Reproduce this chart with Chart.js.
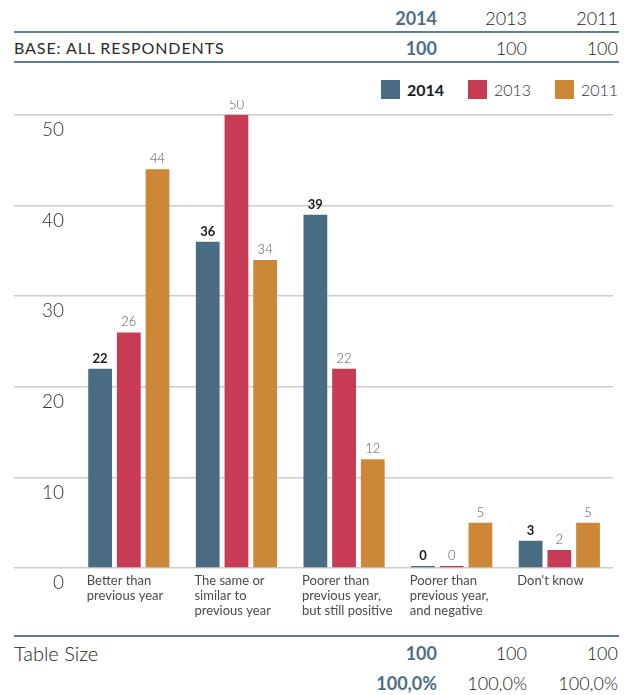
<!DOCTYPE html>
<html>
<head>
<meta charset="utf-8">
<script src="https://cdn.jsdelivr.net/npm/chart.js@4.4.1/dist/chart.umd.min.js"></script>
<style>
  body { margin: 0; width: 632px; height: 695px; position: relative; background: #fff;
         font-family: Lato, "Noto Sans", sans-serif; color: #2b2b2b; overflow: hidden; }
  .t { position: absolute; white-space: nowrap; }
  .hl { position: absolute; left: 14px; width: 605px; height: 2px; background: #5e7d93; }
  .box { position: absolute; width: 19px; height: 19px; }
  #wrap { position: absolute; left: 0; top: 100px; width: 632px; height: 525px; }
</style>
</head>
<body>
<div id="wrap"><canvas id="c"></canvas></div>
<script>
// data
const years = ['2014', '2013', '2011'];
const baseValues = [100, 100, 100];
const tableSize = [100, 100, 100];
const tableShare = ['100,0%', '100,0%', '100,0%'];
const categories = [
  ['Better than', 'previous year'],
  ['The same or', 'similar to', 'previous year'],
  ['Poorer than', 'previous year,', 'but still positive'],
  ['Poorer than', 'previous year,', 'and negative'],
  ["Don't know"]
];
const values2014 = [22, 36, 39, 0, 3];
const values2013 = [26, 50, 22, 0, 2];
const values2011 = [44, 34, 12, 5, 5];
const yTicks = [0, 10, 20, 30, 40, 50];

const colors = ['#4a6c83', '#c73b55', '#cd8837'];
const blueText = '#4d6e86';
const colRight = [437, 527, 618];

// simple text helper for the tables around the chart
function put(text, x, yc, size, opts = {}) {
  const d = document.createElement('div');
  d.className = 't';
  d.textContent = text;
  const lh = Math.round(size * 1.25);
  d.style.fontSize = size + 'px';
  d.style.lineHeight = lh + 'px';
  d.style.top = (yc - lh / 2) + 'px';
  if (opts.right) { d.style.right = (632 - x) + 'px'; d.style.textAlign = 'right'; }
  else d.style.left = x + 'px';
  d.style.fontWeight = opts.bold ? 'bold' : (opts.light ? '300' : 'normal');
  if (opts.color) d.style.color = opts.color;
  if (opts.ls) d.style.letterSpacing = opts.ls;
  document.body.appendChild(d);
}
function line(y) {
  const d = document.createElement('div');
  d.className = 'hl';
  d.style.top = y + 'px';
  document.body.appendChild(d);
}
const firstCol = { right: true, bold: true, color: blueText };
const otherCol = { right: true, light: true, color: '#222' };

// header table
years.forEach((y, i) => put(y, colRight[i], 18.5, 18, i === 0 ? firstCol : otherCol));
line(31);
put('BASE: ALL RESPONDENTS', 14, 48, 16, { ls: '0.9px' });
baseValues.forEach((v, i) => put(String(v), colRight[i], 48.5, 18, i === 0 ? firstCol : otherCol));
line(61);

// legend
const legendX = [381, 468, 555];
years.forEach((y, i) => {
  const b = document.createElement('div');
  b.className = 'box';
  b.style.left = legendX[i] + 'px';
  b.style.top = '80px';
  b.style.background = colors[i];
  document.body.appendChild(b);
  put(y, legendX[i] + 26, 90, 16, i === 0 ? { bold: true, color: '#1b1b1b' } : { light: true, color: '#333' });
});

// bottom table
line(635);
put('Table Size', 14, 653, 20, { light: true, color: '#222' });
tableSize.forEach((v, i) => put(String(v), colRight[i], 653.5, 18, i === 0 ? firstCol : otherCol));
tableShare.forEach((v, i) => put(v, colRight[i], 683.5, 18, i === 0 ? firstCol : otherCol));

// value labels above bars
const valueLabels = {
  id: 'valueLabels',
  afterDatasetsDraw(chart) {
    const ctx = chart.ctx;
    chart.data.datasets.forEach((ds, i) => {
      const meta = chart.getDatasetMeta(i);
      meta.data.forEach((bar, j) => {
        ctx.save();
        ctx.font = (i === 0 ? 'bold ' : '300 ') + '13px Lato, "Noto Sans", sans-serif';
        ctx.fillStyle = i === 0 ? '#1b1b1b' : '#555';
        ctx.textAlign = 'center';
        ctx.textBaseline = 'alphabetic';
        ctx.fillText(String(ds.data[j]), bar.x, bar.y - 6);
        ctx.restore();
      });
    });
  }
};

new Chart(document.getElementById('c'), {
  type: 'bar',
  data: {
    labels: categories,
    datasets: [
      { label: years[0], data: values2014, backgroundColor: colors[0] },
      { label: years[1], data: values2013, backgroundColor: colors[1] },
      { label: years[2], data: values2011, backgroundColor: colors[2] }
    ]
  },
  options: {
    responsive: true,
    maintainAspectRatio: false,
    animation: false,
    datasets: { bar: { categoryPercentage: 0.8, barPercentage: 0.828, minBarLength: 2 } },
    layout: { padding: { top: 15, right: 14, left: 0, bottom: 0 } },
    plugins: { legend: { display: false }, tooltip: { enabled: false } },
    scales: {
      x: {
        grid: { display: false, drawTicks: false },
        border: { display: false },
        ticks: {
          align: 'start', labelOffset: -42, padding: 5, maxRotation: 0, autoSkip: false,
          color: '#4a4a4a', font: { family: 'Lato', size: 13, lineHeight: 1.15 }
        },
        afterFit: s => { s.height = 57; }
      },
      y: {
        min: 0, max: 50,
        border: { display: false },
        grid: { color: '#cccccc', lineWidth: 1.5, tickLength: 61, drawTicks: true },
        afterBuildTicks: s => { s.ticks = yTicks.map(v => ({ value: v })); },
        ticks: {
          padding: -50, labelOffset: 15, crossAlign: 'near',
          color: '#333', font: { family: 'Lato', size: 19, weight: '300' }
        },
        afterFit: s => { s.width = 75; }
      }
    }
  },
  plugins: [valueLabels]
});
</script>
</body>
</html>
